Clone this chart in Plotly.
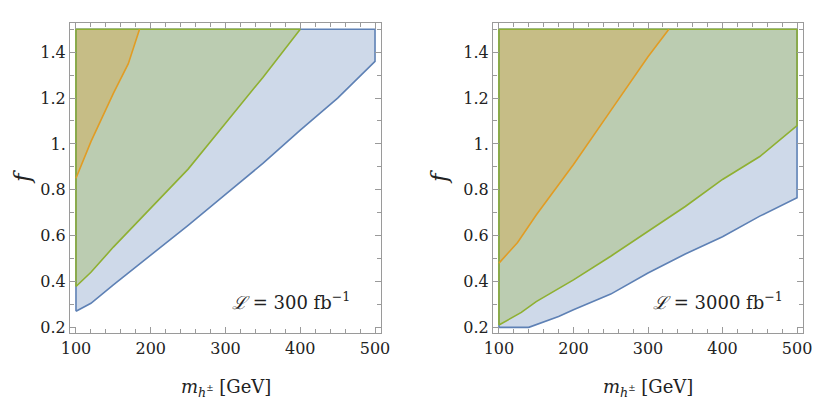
import plotly.graph_objects as go

# --- data (m in GeV, f) ---
M_MIN, M_MAX = 100, 500
F_MIN, F_MAX = 0.2, 1.5

# L = 300 fb^-1
m_blue_300 = [100, 120, 150, 200, 250, 300, 350, 400, 450, 500]
f_blue_300 = [0.27, 0.305, 0.385, 0.515, 0.645, 0.78, 0.915, 1.06, 1.20, 1.36]
m_green_300 = [100, 120, 150, 200, 250, 300, 350, 400]
f_green_300 = [0.378, 0.44, 0.55, 0.72, 0.89, 1.09, 1.29, 1.5]
m_orange_300 = [100, 120, 150, 170, 185]
f_orange_300 = [0.85, 1.01, 1.22, 1.35, 1.5]

# L = 3000 fb^-1
m_blue_3000 = [100, 140, 180, 200, 250, 300, 350, 400, 450, 500]
f_blue_3000 = [0.2, 0.2, 0.247, 0.277, 0.345, 0.437, 0.52, 0.595, 0.685, 0.765]
m_green_3000 = [100, 130, 150, 200, 250, 300, 350, 400, 450, 500]
f_green_3000 = [0.21, 0.265, 0.312, 0.407, 0.51, 0.62, 0.727, 0.845, 0.945, 1.08]
m_orange_3000 = [100, 125, 150, 200, 250, 300, 328]
f_orange_3000 = [0.48, 0.57, 0.69, 0.91, 1.145, 1.38, 1.5]

x_ticks = [100, 200, 300, 400, 500]
y_ticks = [0.2, 0.4, 0.6, 0.8, 1.0, 1.2, 1.4]
y_tick_text = ["0.2", "0.4", "0.6", "0.8", "1.", "1.2", "1.4"]
lumi_labels = ["300", "3000"]

BLUE = "rgb(94,129,181)"
GREEN = "rgb(143,176,50)"
ORANGE = "rgb(225,156,36)"
FONT = "DejaVu Serif"

W, H = 818, 391   # page body adds an 8px margin
OFF = 8


def close_region(m, f):
    # close a region along the top edge of the plot (and right edge if the curve ends below it)
    xs, ys = list(m), list(f)
    if ys[-1] < F_MAX:
        xs.append(M_MAX)
        ys.append(F_MAX)
    xs.append(M_MIN)
    ys.append(F_MAX)
    xs.append(xs[0])
    ys.append(ys[0])
    return xs, ys


def rgba(c, a):
    return c.replace("rgb(", "rgba(").replace(")", f",{a})")


def px(x):
    return (x - OFF) / W


def py(y):
    return 1 - (y - OFF) / H


fig = go.Figure()
panels = [
    (m_blue_300, f_blue_300, m_green_300, f_green_300, m_orange_300, f_orange_300),
    (m_blue_3000, f_blue_3000, m_green_3000, f_green_3000, m_orange_3000, f_orange_3000),
]
for i, (mb, fb, mg, fg, mo, fo) in enumerate(panels):
    xa = "x" if i == 0 else "x2"
    ya = "y" if i == 0 else "y2"
    regions = [(mb, fb, BLUE), (mg, fg, GREEN), (mo, fo, ORANGE)]
    for m, f, c in regions:
        xs, ys = close_region(m, f)
        fig.add_trace(go.Scatter(x=xs, y=ys, fill="toself", fillcolor=rgba(c, 0.3),
                                 mode="lines", line=dict(width=0), hoverinfo="skip",
                                 xaxis=xa, yaxis=ya, showlegend=False))
    for m, f, c in regions[:2]:
        xs, ys = close_region(m, f)
        fig.add_trace(go.Scatter(x=xs, y=ys, mode="lines", line=dict(color=c, width=1.6),
                                 xaxis=xa, yaxis=ya, showlegend=False))
    fig.add_trace(go.Scatter(x=mo, y=fo, mode="lines", line=dict(color=ORANGE, width=1.6),
                             xaxis=xa, yaxis=ya, showlegend=False))

axis_common = dict(
    showline=True, linecolor="#9a9a9a", linewidth=1, mirror="allticks", automargin=False,
    ticks="inside", ticklen=6, tickcolor="#9a9a9a", showgrid=False, zeroline=False,
    tickfont=dict(family=FONT, size=16, color="#222"),
)
x_range = [M_MIN - 0.02 * (M_MAX - M_MIN), M_MAX + 0.02 * (M_MAX - M_MIN)]
y_range = [F_MIN - 0.02 * (F_MAX - F_MIN), F_MAX + 0.02 * (F_MAX - F_MIN)]
xdom = [[px(70), px(381)], [px(493), px(803)]]
ydom = [py(333.3), py(23.3)]

layout = dict(width=W, height=H, margin=dict(l=0, r=0, t=0, b=0),
              plot_bgcolor="white", paper_bgcolor="white",
              font=dict(family=FONT, size=16, color="#222"))
for i in range(2):
    sfx = "" if i == 0 else "2"
    layout["xaxis" + sfx] = dict(axis_common, domain=xdom[i], range=x_range,
                                 tickmode="array", tickvals=x_ticks, ticktext=[str(v) for v in x_ticks],
                                 minor=dict(ticks="inside", ticklen=4, tickcolor="#9a9a9a", dtick=20, tick0=100),
                                 anchor="y" + sfx)
    layout["yaxis" + sfx] = dict(axis_common, domain=ydom, range=y_range,
                                 tickmode="array", tickvals=y_ticks, ticktext=y_tick_text,
                                 minor=dict(ticks="inside", ticklen=4, tickcolor="#9a9a9a", dtick=0.1, tick0=0.2),
                                 anchor="x" + sfx)
fig.update_layout(**layout)

xcenters = [(d[0] + d[1]) / 2 for d in xdom]
for i in range(2):
    fig.add_annotation(text="<i>m</i><sub><i>h</i><sup>±</sup></sub> [GeV]", xref="paper", yref="paper",
                       x=xcenters[i], y=py(388), xanchor="center", yanchor="middle", showarrow=False,
                       font=dict(family=FONT, size=18, color="#222"))
    fig.add_annotation(text="<i>f</i>", xref="paper", yref="paper",
                       x=px([22, 439][i]), y=py(177), xanchor="center", yanchor="middle",
                       showarrow=False, textangle=-90,
                       font=dict(family=FONT, size=23, color="#222"))
    fig.add_annotation(text=f"<i>ℒ</i> = {lumi_labels[i]} fb<sup>−1</sup>", xref="paper", yref="paper",
                       x=px([352, 785][i]), y=py(301), xanchor="right", yanchor="middle", showarrow=False,
                       font=dict(family=FONT, size=18, color="#222"))

fig.write_html("out.html")
